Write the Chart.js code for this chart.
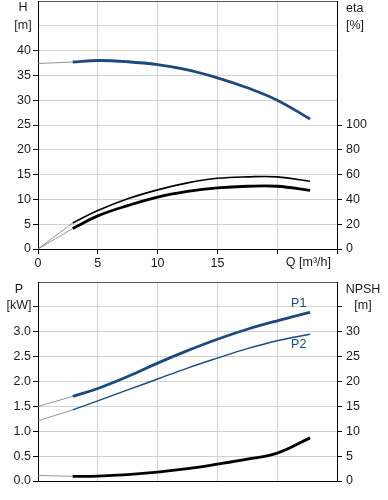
<!DOCTYPE html>
<html>
<head>
<meta charset="utf-8">
<script src="https://cdn.jsdelivr.net/npm/chart.js@4.4.1/dist/chart.umd.min.js"></script>
<style>
  body { margin: 0; background: #fff; }
  #top { position: absolute; left: 0; top: 0; width: 388px; height: 272px; }
  #bottom { position: absolute; left: 0; top: 272px; width: 388px; height: 228px; }
</style>
</head>
<body>
<div id="top"><canvas id="qhChart"></canvas></div>
<div id="bottom"><canvas id="powerChart"></canvas></div>
<script>
// pump curves
const flow = [2.9, 5, 7.5, 10, 12.5, 15, 17.5, 20, 22.75];
const head = [37.7, 38.0, 37.75, 37.15, 36.1, 34.5, 32.5, 30.0, 26.2];
const etaPump = [21, 31, 40.5, 47.7, 53.3, 57, 58.2, 58.2, 54.6];
const etaTotal = [16.5, 26.7, 35, 41.9, 46.4, 49.3, 50.6, 50.6, 47.2];
const powerP1 = [1.70, 1.86, 2.10, 2.37, 2.62, 2.85, 3.05, 3.22, 3.39];
const powerP2 = [1.43, 1.61, 1.83, 2.05, 2.27, 2.47, 2.66, 2.82, 2.95];
const npsh = [0.93, 1.0, 1.3, 1.8, 2.5, 3.4, 4.4, 5.6, 8.67];

// thin extension back to Q = 0
const flowStart = [0, 2.9];
const headStart = [37.4, 37.7];
const etaPumpStart = [0, 21];
const etaTotalStart = [0, 16.5];
const p1Start = [1.5, 1.70];
const p2Start = [1.21, 1.43];
const npshStart = [1.13, 0.93];

const qTicks = [0, 5, 10, 15];

const blue = '#1d4a7c';
const ext = 'rgba(120,128,138,0.85)';
const gridCol = '#d2d2d2';
const font = { family: "'Liberation Sans', Arial, sans-serif", size: 12.5 };
Chart.defaults.font = font;
Chart.defaults.color = '#1a1a1a';

const pts = (xs, ys) => xs.map((x, i) => ({ x: x, y: ys[i] }));

function line(xs, ys, color, width, axis) {
  return {
    data: pts(xs, ys), borderColor: color, borderWidth: width, yAxisID: axis,
    pointRadius: 0, fill: false, tension: 0.4
  };
}

// no extra room for half-height tick labels, the plot box is set by hand
function noPad(s) {
  s.paddingTop = 0; s.paddingBottom = 0; s.paddingLeft = 0; s.paddingRight = 0;
}

// draws the axis unit captions and curve names
function textPlugin(items) {
  return {
    id: 'axisText',
    afterDraw(chart) {
      const c = chart.ctx;
      c.save();
      c.font = "12.5px 'Liberation Sans', Arial, sans-serif";
      c.textBaseline = 'middle';
      items(chart).forEach(t => {
        c.fillStyle = t.color || '#1a1a1a';
        c.textAlign = t.align || 'center';
        c.fillText(t.text, t.x, t.y);
      });
      c.restore();
    }
  };
}

function xAxis(showLabels, h) {
  return {
    type: 'linear', min: 0, max: 25,
    afterFit: s => { s.height = h; noPad(s); },
    border: { color: '#000' },
    grid: { color: gridCol, drawTicks: showLabels, tickLength: 5, tickColor: '#000' },
    ticks: {
      display: showLabels, stepSize: 5, autoSkip: false, maxRotation: 0, padding: 2,
      callback: v => qTicks.includes(v) ? v : ''
    }
  };
}

new Chart(document.getElementById('qhChart'), {
  type: 'line',
  data: {
    datasets: [
      line(flowStart, headStart, ext, 1, 'yH'),
      line(flowStart, etaPumpStart, ext, 1, 'yEta'),
      line(flowStart, etaTotalStart, ext, 1, 'yEta'),
      line(flow, head, blue, 2.8, 'yH'),
      line(flow, etaPump, '#000', 1.6, 'yEta'),
      line(flow, etaTotal, '#000', 2.8, 'yEta')
    ]
  },
  options: {
    responsive: true, maintainAspectRatio: false, animation: false,
    layout: { padding: { top: 1 } },
    plugins: { legend: { display: false }, tooltip: { enabled: false } },
    scales: {
      x: xAxis(true, 23),
      yH: {
        position: 'left', min: 0, max: 50,
        afterFit: s => { s.width = 38; noPad(s); },
        border: { color: '#000' },
        grid: {
          color: c => c.tick.value === 50 ? '#555' : gridCol,
          tickLength: 5,
          tickColor: c => c.tick.value > 40 ? 'rgba(0,0,0,0)' : '#000'
        },
        ticks: { stepSize: 5, padding: 2, callback: v => v <= 40 ? v : '' }
      },
      yEta: {
        position: 'right', min: 0, max: 200,
        afterFit: s => { s.width = 51; noPad(s); },
        afterBuildTicks: s => { s.ticks = s.ticks.filter(t => t.value <= 100); },
        border: { color: '#000' },
        grid: { drawOnChartArea: false, tickLength: 5, tickColor: '#000' },
        ticks: { stepSize: 20, padding: 4 }
      }
    }
  },
  plugins: [textPlugin(chart => {
    const a = chart.chartArea;
    const y45 = chart.scales.yH.getPixelForValue(45);
    const xs = chart.scales.x;
    return [
      { text: 'H', x: a.left - 15, y: y45 - 18 },
      { text: '[m]', x: a.left - 15, y: y45 },
      { text: 'eta', x: a.right + 9, y: y45 - 17, align: 'left' },
      { text: '[%]', x: a.right + 9, y: y45, align: 'left' },
      { text: 'Q [m\u00b3/h]', x: a.right - 6, y: xs.top + 14, align: 'right' }
    ];
  })]
});

new Chart(document.getElementById('powerChart'), {
  type: 'line',
  data: {
    datasets: [
      line(flowStart, p1Start, ext, 1, 'yP'),
      line(flowStart, p2Start, ext, 1, 'yP'),
      line(flowStart, npshStart, ext, 1, 'yN'),
      line(flow, powerP1, blue, 2.8, 'yP'),
      line(flow, powerP2, blue, 1.4, 'yP'),
      line(flow, npsh, '#000', 2.8, 'yN')
    ]
  },
  options: {
    responsive: true, maintainAspectRatio: false, animation: false,
    layout: { padding: { top: 10 } },
    plugins: { legend: { display: false }, tooltip: { enabled: false } },
    scales: {
      x: xAxis(false, 19),
      yP: {
        position: 'left', min: 0, max: 4,
        afterFit: s => { s.width = 38; noPad(s); },
        border: { color: '#000' },
        grid: {
          color: c => c.tick.value === 4 ? '#555' : gridCol,
          tickLength: 5,
          tickColor: c => c.tick.value >= 4 ? 'rgba(0,0,0,0)' : '#000'
        },
        ticks: { stepSize: 0.5, padding: 2, callback: v => v < 3.5 ? v.toFixed(1) : '' }
      },
      yN: {
        position: 'right', min: 0, max: 40,
        afterFit: s => { s.width = 51; noPad(s); },
        border: { color: '#000' },
        grid: {
          drawOnChartArea: false, tickLength: 5,
          tickColor: c => c.tick.value >= 40 ? 'rgba(0,0,0,0)' : '#000'
        },
        ticks: { stepSize: 5, padding: 4, callback: v => v < 35 ? v : '' }
      }
    }
  },
  plugins: [textPlugin(chart => {
    const a = chart.chartArea;
    const yP = chart.scales.yP;
    const y35 = yP.getPixelForValue(3.5);
    const xLab = chart.scales.x.getPixelForValue(21.8);
    return [
      { text: 'P', x: a.left - 19, y: y35 - 17 },
      { text: '[kW]', x: a.left - 19, y: y35 - 1 },
      { text: 'NPSH', x: a.right + 26, y: y35 - 17 },
      { text: '[m]', x: a.right + 26, y: y35 - 1 },
      { text: 'P1', x: xLab, y: yP.getPixelForValue(powerP1[8]) - 9, color: blue },
      { text: 'P2', x: xLab, y: yP.getPixelForValue(powerP2[8]) + 10, color: blue }
    ];
  })]
});
</script>
</body>
</html>
